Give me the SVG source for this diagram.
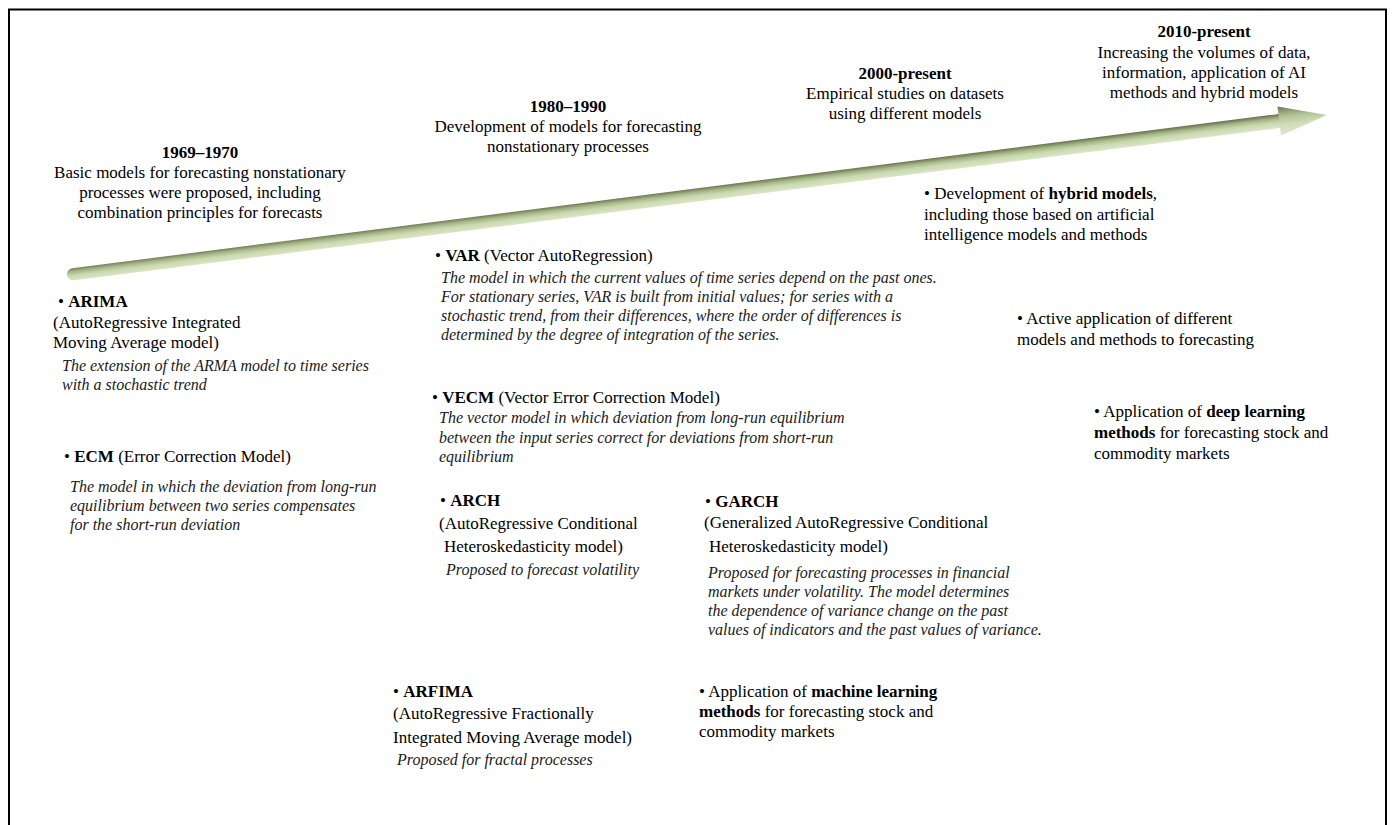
<svg xmlns="http://www.w3.org/2000/svg" width="1394" height="825" viewBox="0 0 1394 825">
  <defs>
    <style>
      .t { font-family: "Liberation Serif", "Times New Roman", serif; font-size: 17px; fill: #000; }
      .c { text-anchor: middle; }
      .b { font-weight: bold; }
      .i { font-style: italic; font-size: 16px; fill: #1a1a1a; }
    </style>
    <linearGradient id="tube" x1="0" y1="0" x2="0" y2="1">
      <stop offset="0" stop-color="#66704a"/>
      <stop offset="0.3" stop-color="#a6b688"/>
      <stop offset="0.6" stop-color="#cbd9b0"/>
      <stop offset="1" stop-color="#dbe6c7"/>
    </linearGradient>
    <linearGradient id="head" x1="0" y1="0" x2="0" y2="1">
      <stop offset="0" stop-color="#6c774f"/>
      <stop offset="0.35" stop-color="#b3c296"/>
      <stop offset="0.65" stop-color="#d0ddb7"/>
      <stop offset="1" stop-color="#dde8ca"/>
    </linearGradient>
  </defs>

  <rect x="9" y="9.5" width="1377" height="830" fill="#fff" stroke="#000" stroke-width="2"/>

  <!-- timeline arrow -->
  <g id="connectors">
    <g transform="translate(67,275) rotate(-7.24)">
      <path d="M6,-6 L1226,-7 L1226,7 L6,6 A6,6 0 0 1 6,-6 Z" fill="url(#tube)"/>
      <path d="M1222,-14.5 L1270,0 L1222,14.5 Z" fill="url(#head)"/>
    </g>
  </g>

  <!-- periods -->
  <g id="period-1969">
    <text class="t c b" x="200" y="158">1969–1970</text>
    <text class="t c" x="200" y="178">Basic models for forecasting nonstationary</text>
    <text class="t c" x="200" y="198">processes were proposed, including</text>
    <text class="t c" x="200" y="218">combination principles for forecasts</text>
  </g>
  <g id="period-1980">
    <text class="t c b" x="568" y="112">1980–1990</text>
    <text class="t c" x="568" y="132">Development of models for forecasting</text>
    <text class="t c" x="568" y="152">nonstationary processes</text>
  </g>
  <g id="period-2000">
    <text class="t c b" x="905" y="79">2000-present</text>
    <text class="t c" x="905" y="99">Empirical studies on datasets</text>
    <text class="t c" x="905" y="119">using different models</text>
  </g>
  <g id="period-2010">
    <text class="t c b" x="1204" y="37">2010-present</text>
    <text class="t c" x="1204" y="58">Increasing the volumes of data,</text>
    <text class="t c" x="1204" y="78">information, application of AI</text>
    <text class="t c" x="1204" y="98">methods and hybrid models</text>
  </g>

  <!-- models -->
  <g id="arima">
    <text class="t" x="58" y="307">• <tspan class="b">ARIMA</tspan></text>
    <text class="t" x="53" y="328">(AutoRegressive Integrated</text>
    <text class="t" x="53" y="348">Moving Average model)</text>
    <text class="t i" x="62" y="371">The extension of the ARMA model to time series</text>
    <text class="t i" x="62" y="390">with a stochastic trend</text>
  </g>
  <g id="ecm">
    <text class="t" x="64" y="462">• <tspan class="b">ECM</tspan> (Error Correction Model)</text>
    <text class="t i" x="70" y="492">The model in which the deviation from long-run</text>
    <text class="t i" x="70" y="511">equilibrium between two series compensates</text>
    <text class="t i" x="70" y="530">for the short-run deviation</text>
  </g>
  <g id="var">
    <text class="t" x="435" y="261">• <tspan class="b">VAR</tspan> (Vector AutoRegression)</text>
    <text class="t i" x="441" y="283">The model in which the current values of time series depend on the past ones.</text>
    <text class="t i" x="441" y="302">For stationary series, VAR is built from initial values; for series with a</text>
    <text class="t i" x="441" y="321">stochastic trend, from their differences, where the order of differences is</text>
    <text class="t i" x="441" y="340">determined by the degree of integration of the series.</text>
  </g>
  <g id="vecm">
    <text class="t" x="432" y="403">• <tspan class="b">VECM</tspan> (Vector Error Correction Model)</text>
    <text class="t i" x="439" y="423">The vector model in which deviation from long-run equilibrium</text>
    <text class="t i" x="439" y="443">between the input series correct for deviations from short-run</text>
    <text class="t i" x="439" y="462">equilibrium</text>
  </g>
  <g id="arch">
    <text class="t" x="440" y="506">• <tspan class="b">ARCH</tspan></text>
    <text class="t" x="439" y="529">(AutoRegressive Conditional</text>
    <text class="t" x="444" y="552">Heteroskedasticity model)</text>
    <text class="t i" x="446" y="575">Proposed to forecast volatility</text>
  </g>
  <g id="garch">
    <text class="t" x="705" y="507">• <tspan class="b">GARCH</tspan></text>
    <text class="t" x="704" y="528">(Generalized AutoRegressive Conditional</text>
    <text class="t" x="709" y="552">Heteroskedasticity model)</text>
    <text class="t i" x="708" y="578">Proposed for forecasting processes in financial</text>
    <text class="t i" x="708" y="597">markets under volatility. The model determines</text>
    <text class="t i" x="708" y="616">the dependence of variance change on the past</text>
    <text class="t i" x="708" y="635">values of indicators and the past values of variance.</text>
  </g>
  <g id="arfima">
    <text class="t" x="393" y="697">• <tspan class="b">ARFIMA</tspan></text>
    <text class="t" x="393" y="719">(AutoRegressive Fractionally</text>
    <text class="t" x="393" y="743">Integrated Moving Average model)</text>
    <text class="t i" x="397" y="765">Proposed for fractal processes</text>
  </g>
  <g id="machine-learning">
    <text class="t" x="699" y="697">• Application of <tspan class="b">machine learning</tspan></text>
    <text class="t" x="699" y="717"><tspan class="b">methods</tspan> for forecasting stock and</text>
    <text class="t" x="699" y="737">commodity markets</text>
  </g>
  <g id="hybrid">
    <text class="t" x="924" y="199">• Development of <tspan class="b">hybrid models</tspan>,</text>
    <text class="t" x="924" y="220">including those based on artificial</text>
    <text class="t" x="924" y="240">intelligence models and methods</text>
  </g>
  <g id="active">
    <text class="t" x="1017" y="324">• Active application of different</text>
    <text class="t" x="1017" y="345">models and methods to forecasting</text>
  </g>
  <g id="deep-learning">
    <text class="t" x="1094" y="417">• Application of <tspan class="b">deep learning</tspan></text>
    <text class="t" x="1094" y="438"><tspan class="b">methods</tspan> for forecasting stock and</text>
    <text class="t" x="1094" y="459">commodity markets</text>
  </g>
</svg>
